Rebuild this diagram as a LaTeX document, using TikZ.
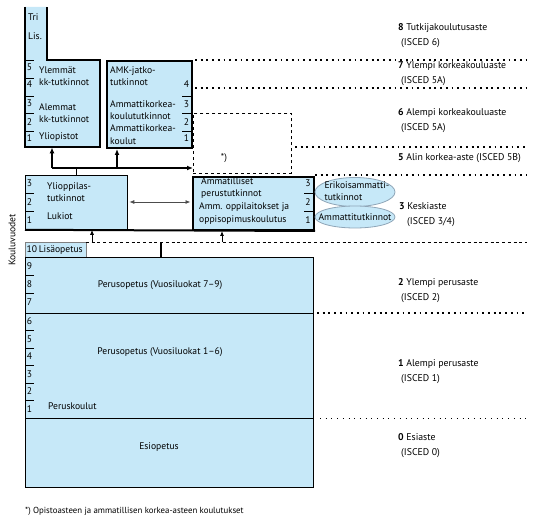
\documentclass[tikz,border=0pt]{standalone}
\usepackage{fontspec}
\setmainfont{PT Sans}
\usepackage{xcolor}
\definecolor{EDUblue}{HTML}{C6E8F8}
\definecolor{OVALline}{HTML}{8FA6B8}
\usetikzlibrary{arrows.meta,shapes.geometric}

\begin{document}
\begin{tikzpicture}[x=1pt, y=-1pt]

    \tikzset{%
        every node/.style={font=\fontsize{9.6}{12.5}\selectfont, inner sep=0pt},
        heavy/.style={draw, line width=2pt, fill=EDUblue, anchor=north west},
        light/.style={draw, line width=0.8pt, fill=EDUblue, anchor=north west},
        txt/.style={anchor=west, align=left},
        lvl/.style={anchor=west, align=left, font=\fontsize{9.8}{15}\selectfont},
        sep/.style={line width=1.6pt, dash pattern=on 1.8pt off 3.9pt},
        finesep/.style={line width=0.7pt, dash pattern=on 1pt off 4.7pt},
        dashsep/.style={line width=0.8pt, dash pattern=on 3pt off 2.7pt},
        tick/.style={line width=0.8pt},
        up/.style={-{Latex[length=6pt,width=5pt]}},
        thinup/.style={-{Latex[length=5pt,width=4pt]}, line width=0.8pt},
        oval/.style={ellipse, draw=OVALline, fill=EDUblue, line width=0.8pt},
    }

    \useasboundingbox (0,0) rectangle (544,532);

    % korkea-aste
    \filldraw[fill=EDUblue, line width=2pt] (25,7) -- (25,147) -- (100,147) -- (100,60) -- (47,60) -- (47,7);
    \node[anchor=north west, minimum width=75pt, minimum height=87pt] (yo) at (25,60) {};
    \node[heavy, minimum width=85pt, minimum height=87pt] (amk) at (106,60) {};
    \node[draw, dashed, line width=0.6pt, anchor=north west, minimum width=98pt, minimum height=60pt] (opist) at (193,113) {};
    \node (star) at (224,158) {*)};

    \foreach \yy in {60,78,96,113,131} {%
            \draw[tick] (25,\yy) -- ++(9,0);
        }
    \foreach \n/\yy in {5/67,4/84,3/103,2/122,1/138} {%
            \node (yr\n) at (29.5,\yy) {\n};
        }
    \node[txt] (tri) at (28,17) {Tri};
    \node[txt] (lis) at (28,36) {Lis.};
    \node[txt] (ylem) at (39,76) {Ylemmät\\kk-tutkinnot};
    \node[txt] (alem) at (39,113) {Alemmat\\kk-tutkinnot};
    \node[txt] (yliop) at (39,137) {Yliopistot};

    \foreach \yy in {96,113,131} {%
            \draw[tick] (191,\yy) -- ++(-9,0);
        }
    \foreach \n/\yy in {4/84,3/104,2/122,1/138} {%
            \node (ay\n) at (186.5,\yy) {\n};
        }
    \node[txt] (jatko) at (110,76) {AMK-jatko-\\tutkinnot};
    \node[txt] (amkt) at (110,110) {Ammattikorkea-\\koulututkinnot};
    \node[txt] (amkk) at (110,134.5) {Ammattikorkea-\\koulut};

    % keskiaste
    \node[light, minimum width=102pt, minimum height=54pt] (lukio) at (25,175) {};
    \node[heavy, minimum width=121pt, minimum height=53pt] (amm) at (192,176) {};
    \draw[line width=2pt] (lukio.south west) -- (amm.south east);
    \foreach \yy in {193,211} {%
            \draw[tick] (25,\yy) -- ++(9,0);
            \draw[tick] (313,\yy) -- ++(-9,0);
        }
    \foreach \n/\yy in {3/183,2/202,1/220} {%
            \node (ly\n) at (29.5,\yy) {\n};
            \node (my\n) at (308,\yy) {\n};
        }
    \node[txt] (ylio) at (47,192) {Ylioppilas-\\tutkinnot};
    \node[txt] (lukiot) at (47,216) {Lukiot};
    \node[txt] (ammp) at (201,188) {Ammatilliset\\perustutkinnot};
    \node[txt] (ammo) at (199,213.5) {Amm. oppilaitokset ja\\oppisopimuskoulutus};
    \node[oval, minimum width=80pt, minimum height=29pt] (erik) at (355,192) {};
    \node[oval, minimum width=80pt, minimum height=22pt] (ammt) at (355,217) {};
    \node[align=left] (erikt) at (357,191) {Erikoisammatti-\\tutkinnot};
    \node (ammtt) at (355,217) {Ammattitutkinnot};

    % perusaste
    \node[light, draw=gray, minimum width=61pt, minimum height=15pt] (lisa) at (25,242) {};
    \node[anchor=west] (lisat) at (26.5,250) {10\,Lisäopetus};
    \node[light, minimum width=288pt, minimum height=230pt] (perus) at (25,257) {};
    \draw[line width=0.8pt] (25,313) -- (313,313);
    \draw[line width=0.8pt] (25,418) -- (313,418);
    \foreach \yy in {275,293,330.5,348,365.5,383,400.5} {%
            \draw[tick] (25,\yy) -- ++(9,0);
        }
    \foreach \n/\yy in {9/266,8/284,7/302,6/321,5/339,4/356,3/374,2/391,1/409} {%
            \node (py\n) at (29.5,\yy) {\n};
        }
    \node (p79) at (160,285) {Perusopetus (Vuosiluokat 7--9)};
    \node (p16) at (160,352) {Perusopetus (Vuosiluokat 1--6)};
    \node[txt] (pkoul) at (48,406) {Peruskoulut};
    \node (esi) at (159,447) {Esiopetus};

    % tasorajat
    \foreach \yy/\xs/\st in {60/195/sep, 88/195/sep, 147/295/sep, 175/315/sep, 242/86/dashsep, 313/317/sep, 418/320/finesep} {%
            \draw[\st] (\xs,\yy) -- (527,\yy);
        }

    % siirtymat
    \coordinate (railL) at (52,168);
    \coordinate (railA) at (117,168);
    \coordinate (railK) at (76,168);
    \draw[line width=2pt, up] (railL) -- (railL -| opist.west);
    \draw[line width=2pt, up] (railL) -- (railL |- yo.south);
    \draw[line width=2pt, up] (railA) -- (railA |- amk.south);
    \draw[line width=0.8pt] (railK) -- (railK |- lukio.north);
    \coordinate (mid) at (160,202);
    \draw[{Latex[length=5pt,width=4pt]}-{Latex[length=5pt,width=4pt]}, line width=0.8pt, black!70] (mid -| lukio.east) ++(1.5,0) -- ([xshift=-1.5pt]mid -| amm.west);
    \coordinate (pj) at (161,242);
    \coordinate (kL) at (92,242);
    \coordinate (kA) at (222,242);
    \draw[line width=1.6pt] (pj) -- (pj |- perus.north);
    \draw[thinup] (kL) -- (kL |- lukio.south);
    \draw[thinup] (kA) -- (kA |- amm.south);

    % tasot
    \node[lvl] (t8) at (398,35.5) {\textbf{8} Tutkijakoulutusaste\\\hspace{3pt}(ISCED 6)};
    \node[lvl] (t7) at (398,74) {\textbf{7} Ylempi korkeakouluaste\\\hspace{3pt}(ISCED 5A)};
    \node[lvl] (t6) at (398,120.5) {\textbf{6} Alempi korkeakouluaste\\\hspace{3pt}(ISCED 5A)};
    \node[lvl] (t5) at (398,158) {\textbf{5} Alin korkea-aste (ISCED 5B)};
    \node[lvl] (t3) at (399,214.5) {\textbf{3} Keskiaste\\\hspace{8pt}(ISCED 3/4)};
    \node[lvl] (t2) at (398,290.5) {\textbf{2} Ylempi perusaste\\\hspace{3pt}(ISCED 2)};
    \node[lvl] (t1) at (398,371.5) {\textbf{1} Alempi perusaste\\\hspace{3pt}(ISCED 1)};
    \node[lvl] (t0) at (398,445.5) {\textbf{0} Esiaste\\\hspace{3pt}(ISCED 0)};

    \node[rotate=90] (vuodet) at (12,240) {Kouluvuodet};
    \node[anchor=west, font=\fontsize{8.8}{10}\selectfont] (huom) at (25,511) {*) Opistoasteen ja ammatillisen korkea-asteen koulutukset};

\end{tikzpicture}
\end{document}
